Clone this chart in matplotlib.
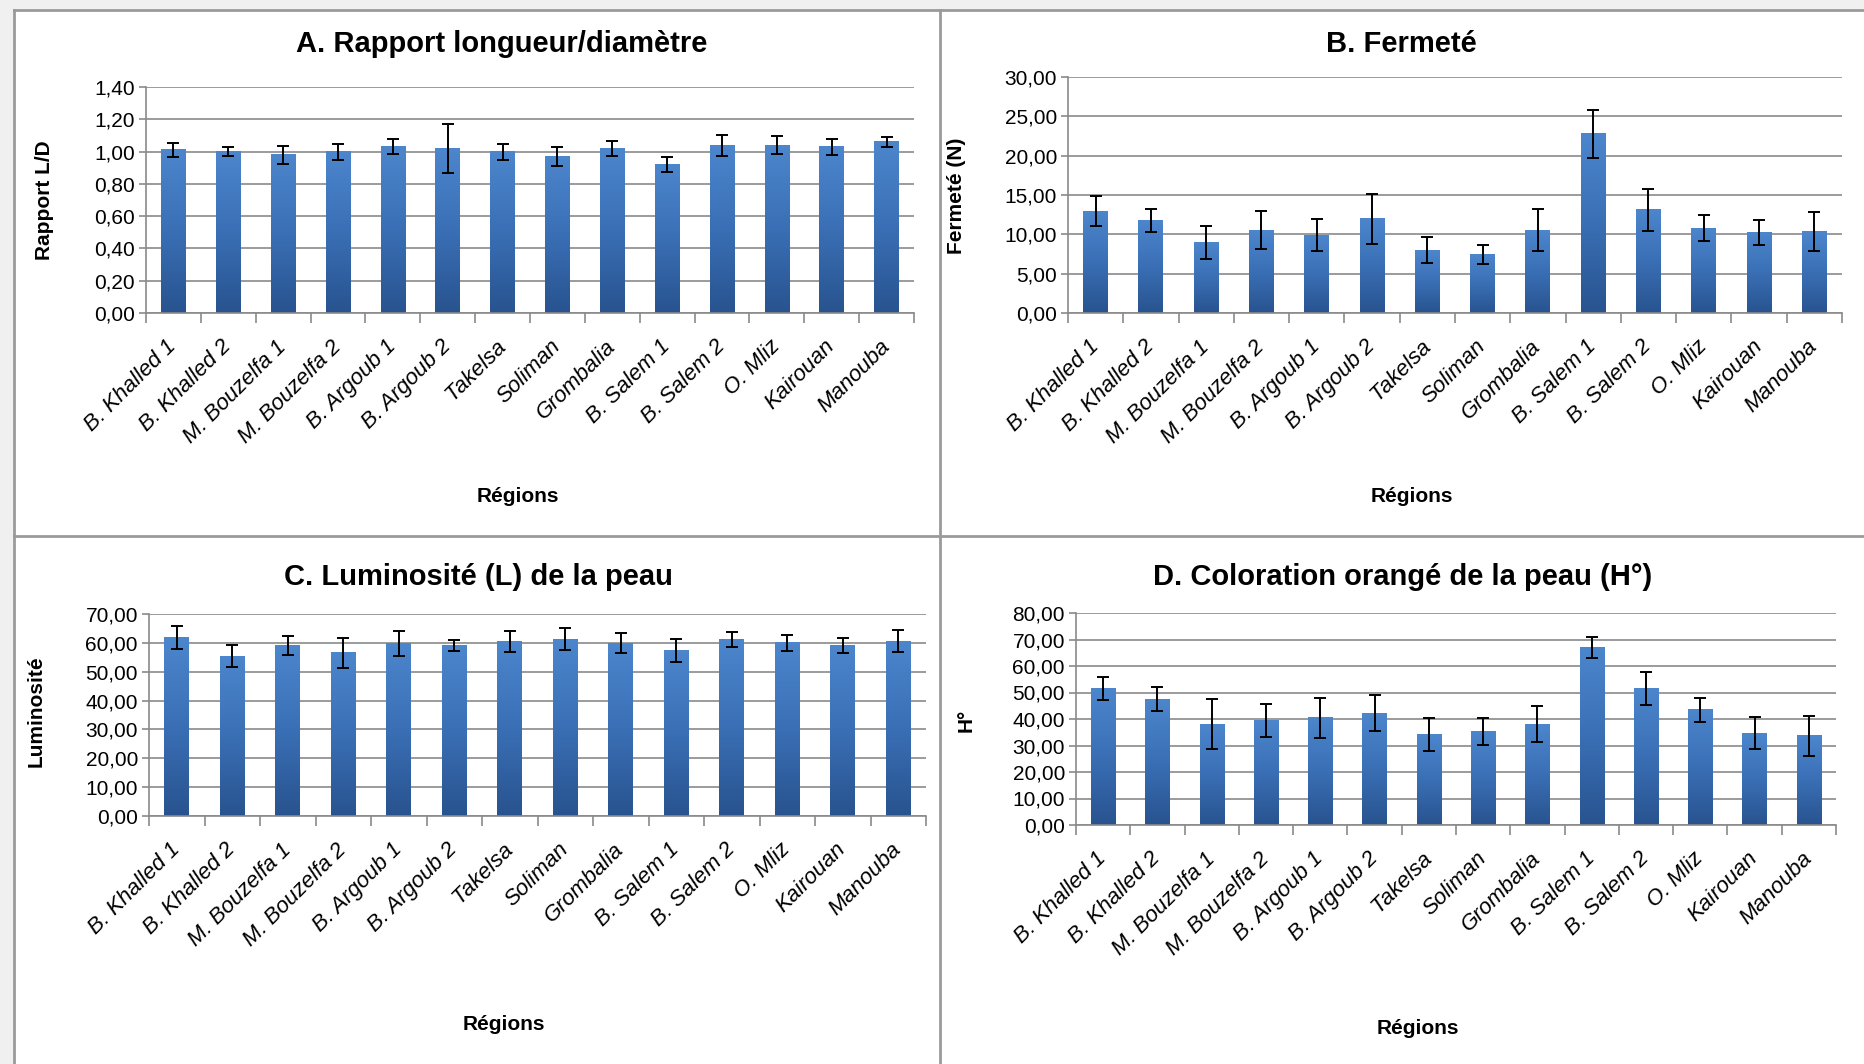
import numpy as np
import matplotlib
matplotlib.use("Agg")
import matplotlib.pyplot as plt
from matplotlib.colors import LinearSegmentedColormap
from matplotlib.lines import Line2D
from matplotlib.patches import Rectangle
from matplotlib.ticker import FuncFormatter, MultipleLocator

plt.rcParams["font.family"] = ["Liberation Sans", "DejaVu Sans"]

# ----------------------------- data ---------------------------------- #
regions = ["B. Khalled 1", "B. Khalled 2", "M. Bouzelfa 1", "M. Bouzelfa 2",
           "B. Argoub 1", "B. Argoub 2", "Takelsa", "Soliman", "Grombalia",
           "B. Salem 1", "B. Salem 2", "O. Mliz", "Kairouan", "Manouba"]

ratio_ld = [1.01, 1.00, 0.98, 1.00, 1.03, 1.02, 1.00, 0.97, 1.02,
            0.92, 1.04, 1.04, 1.03, 1.06]
ratio_ld_err = [0.045, 0.03, 0.055, 0.05, 0.045, 0.15, 0.05, 0.06, 0.045,
                0.045, 0.065, 0.055, 0.05, 0.03]

fermete = [12.95, 11.8, 9.0, 10.55, 9.9, 11.97, 8.0, 7.45, 10.55,
           22.8, 13.1, 10.8, 10.2, 10.4]
fermete_err = [1.9, 1.45, 2.1, 2.45, 2.0, 3.2, 1.65, 1.25, 2.65,
               3.05, 2.7, 1.7, 1.6, 2.5]

luminosite = [61.7, 55.4, 59.1, 56.5, 59.9, 59.1, 60.6, 61.2, 59.9,
              57.5, 61.2, 60.0, 59.1, 60.6]
luminosite_err = [4.0, 3.7, 3.4, 5.1, 4.3, 2.0, 3.6, 3.8, 3.4,
                  4.0, 2.7, 2.8, 2.5, 3.7]

hue = [51.5, 47.5, 38.1, 39.4, 40.4, 42.2, 34.1, 35.2, 38.1,
       66.9, 51.5, 43.4, 34.7, 33.6]
hue_err = [4.5, 4.5, 9.5, 6.2, 7.7, 6.8, 6.1, 5.0, 6.9,
           4.0, 6.4, 4.4, 6.1, 7.4]

# ----------------------------- style --------------------------------- #
W, H = 1865, 1064
GRID = "#8a8a8a"
BORDER = "#9a9a9a"
bar_cmap = LinearSegmentedColormap.from_list("xl_blue", ["#28538f", "#3a6fb5", "#4c86cd"])


def px_box(left, right, top, bottom):
    """Axes rectangle from pixel edges (origin top-left)."""
    return [left / W, 1 - bottom / H, (right - left) / W, (bottom - top) / H]


def draw_panel(ax, values, errors, ymax, step):
    x = np.arange(len(regions))
    bars = ax.bar(x, values, width=0.45, color="#3a6fb5", zorder=2)
    grad = np.linspace(1, 0, 256).reshape(-1, 1)
    for b in bars:
        x0, w, h = b.get_x(), b.get_width(), b.get_height()
        ax.imshow(grad, cmap=bar_cmap, extent=(x0, x0 + w, 0, h),
                  aspect="auto", origin="upper", zorder=2.1)
    ax.errorbar(x, values, yerr=errors, fmt="none", ecolor="black",
                elinewidth=1.4, capsize=4.5, capthick=1.4, zorder=3)

    ax.set_xlim(-0.5, len(regions) - 0.5)
    ax.set_ylim(0, ymax)
    ax.yaxis.set_major_locator(MultipleLocator(step))
    ax.yaxis.set_major_formatter(FuncFormatter(lambda v, _: f"{v:.2f}".replace(".", ",")))
    ax.grid(axis="y", color=GRID, linewidth=1.2, zorder=0)
    ax.set_axisbelow(True)

    # Excel-like category ticks between bars
    ax.set_xticks(x)
    ax.set_xticklabels(regions, rotation=45, ha="right", va="center",
                       rotation_mode="anchor", fontsize=16, style="italic")
    ax.set_xticks(np.arange(len(regions) + 1) - 0.5, minor=True)
    ax.tick_params(axis="x", which="major", length=0, pad=22)
    ax.tick_params(axis="x", which="minor", length=7, color=GRID, width=1.2)
    ax.tick_params(axis="y", length=5, color=GRID, width=1.2, labelsize=15, pad=3)

    for side in ("top", "right"):
        ax.spines[side].set_visible(False)
    for side in ("left", "bottom"):
        ax.spines[side].set_color(GRID)
        ax.spines[side].set_linewidth(1.2)


fig = plt.figure(figsize=(W / 100, H / 100), dpi=100)

# screenshot frame: light strip on left/top and chart borders
fig.add_artist(Rectangle((0, 0), 14 / W, 1, transform=fig.transFigure,
                         facecolor="#f0f0f0", edgecolor="none", zorder=0))
fig.add_artist(Rectangle((0, 1 - 10 / H), 1, 10 / H, transform=fig.transFigure,
                         facecolor="#f0f0f0", edgecolor="none", zorder=0))
for xs, ys in [((14 / W, 14 / W), (0, 1 - 10 / H)),
               ((14 / W, 1), (1 - 10 / H, 1 - 10 / H)),
               ((940 / W, 940 / W), (0, 1 - 10 / H)),
               ((14 / W, 1), (1 - 536 / H, 1 - 536 / H))]:
    fig.add_artist(Line2D(xs, ys, transform=fig.transFigure, color=BORDER, linewidth=2))

panels = [
    (px_box(146, 914, 87, 313), ratio_ld, ratio_ld_err, 1.4, 0.2, "Rapport L/D",
     "A. Rapport longueur/diamètre", (502, 44), (45, 200), (518, 496)),
    (px_box(1068, 1842, 77, 313), fermete, fermete_err, 30, 5, "Fermeté (N)",
     "B. Fermeté", (1401, 44), (957, 196), (1412, 496)),
    (px_box(149, 926, 614, 816), luminosite, luminosite_err, 70, 10, "Luminosité",
     "C. Luminosité (L) de la peau", (478, 577), (36, 711), (504, 1025)),
    (px_box(1076, 1836, 613, 825), hue, hue_err, 80, 10, "H°",
     "D. Coloration orangé de la peau (H°)", (1403, 577), (966, 720), (1418, 1028)),
]

for box, vals, errs, ymax, step, ylab, title, tpos, ypos, xpos in panels:
    ax = fig.add_axes(box)
    draw_panel(ax, vals, errs, ymax, step)
    fig.text(tpos[0] / W, 1 - tpos[1] / H, title, ha="center", va="center",
             fontsize=21, fontweight="bold")
    fig.text(ypos[0] / W, 1 - ypos[1] / H, ylab, ha="center", va="center",
             rotation=90, fontsize=15, fontweight="bold")
    fig.text(xpos[0] / W, 1 - xpos[1] / H, "Régions", ha="center", va="center",
             fontsize=15, fontweight="bold")

fig.savefig("out.png", dpi=100)
